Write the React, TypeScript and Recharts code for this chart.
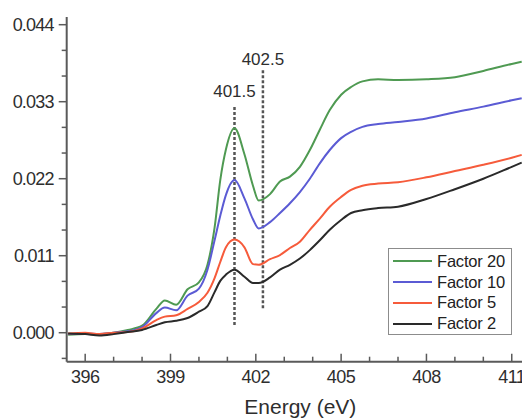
import React from 'react'
import { LineChart, Line, XAxis, YAxis, ReferenceLine, Legend } from 'recharts'

// photon energy (eV) and absorption for each dilution factor
const energy = [395.4, 396, 396.5, 397, 397.5, 398, 398.5, 398.8, 399.2, 399.6, 400, 400.3, 400.55, 400.75, 400.95, 401.25, 401.6, 401.9, 402.1, 402.5, 402.85, 403.2, 403.55, 403.9, 404.25, 404.6, 405, 405.35, 405.75, 406.3, 407, 408, 409, 410, 411, 411.35]
const factor20 = [-0.0003, -0.0002, -0.0002, 0.0, 0.0004, 0.001, 0.0034, 0.0046, 0.004, 0.0062, 0.0072, 0.0097, 0.015, 0.0218, 0.0262, 0.0292, 0.0255, 0.021, 0.0189, 0.0198, 0.0216, 0.0223, 0.0237, 0.0261, 0.029, 0.0318, 0.034, 0.0351, 0.0359, 0.0362, 0.0361, 0.0362, 0.0365, 0.0374, 0.0384, 0.0387]
const factor10 = [-0.0002, -0.0001, -0.0002, 0.0, 0.0002, 0.0008, 0.0028, 0.0036, 0.0032, 0.0053, 0.0063, 0.009, 0.0132, 0.0167, 0.0197, 0.0218, 0.0192, 0.0162, 0.0149, 0.0158, 0.0171, 0.0185, 0.0201, 0.022, 0.0242, 0.0261, 0.0278, 0.0287, 0.0294, 0.0298, 0.0301, 0.0306, 0.0315, 0.0323, 0.0332, 0.0335]
const factor5 = [-0.0001, 0.0, -0.0002, 0.0, 0.0001, 0.0006, 0.0018, 0.0023, 0.0025, 0.0034, 0.0044, 0.0057, 0.0078, 0.0101, 0.0122, 0.0133, 0.0122, 0.0098, 0.0097, 0.0105, 0.0111, 0.0121, 0.013, 0.0147, 0.0163, 0.018, 0.0194, 0.0204, 0.021, 0.0213, 0.0215, 0.0222, 0.0231, 0.024, 0.025, 0.0254]
const factor2 = [-0.0001, -0.0002, -0.0004, -0.0002, 0.0001, 0.0004, 0.0011, 0.0015, 0.0017, 0.0021, 0.003, 0.0038, 0.0058, 0.0074, 0.0083, 0.009, 0.008, 0.0071, 0.0071, 0.0079, 0.009, 0.0097, 0.0106, 0.0118, 0.0132, 0.0147, 0.0161, 0.0171, 0.0175, 0.0178, 0.018, 0.0191, 0.0205, 0.022, 0.0237, 0.0243]

const xTicks = [396, 397, 398, 399, 400, 401, 402, 403, 404, 405, 406, 407, 408, 409, 410, 411]
const yTicks = [-1, 0, 1, 2, 3, 4, 5, 6, 7, 8, 9, 10, 11, 12].map(k => (k * 0.011) / 3)

// dashed markers: [drawn at, label, from y, to y, label gap]
const markers: [number, string, number, number, number][] = [
  [401.25, '401.5', 0.0011, 0.0324, 9],
  [402.25, '402.5', 0.0035, 0.0377, 4],
]

const series = [
  { key: 'f20', name: 'Factor 20', color: '#4f9a52', values: factor20 },
  { key: 'f10', name: 'Factor 10', color: '#5b5bd4', values: factor10 },
  { key: 'f5', name: 'Factor 5', color: '#f65b3b', values: factor5 },
  { key: 'f2', name: 'Factor 2', color: '#2a2a2a', values: factor2 },
]

const data = energy.map((e, i) => {
  const row: Record<string, number> = { e }
  series.forEach(s => { row[s.key] = s.values[i] })
  return row
})

const FONT = '"Liberation Sans", Arial, Helvetica, sans-serif'
const AXIS = '#5a5a5a'
const TEXT = '#2e2e2e'

const isMajorX = (v: number) => Math.abs((v - 396) % 3) < 1e-6
const isMajorY = (v: number) => {
  const k = v / 0.011
  return Math.abs(k - Math.round(k)) < 1e-6
}

function BottomTick({ x, y, payload }: any) {
  const major = isMajorX(payload.value)
  return (
    <g>
      <line x1={x} x2={x} y1={y} y2={y - (major ? 8 : 5)} stroke={AXIS} strokeWidth={1.5} />
      {major && (
        <text x={x} y={y + 21} textAnchor="middle" fontSize={18} fill={TEXT} fontFamily={FONT} letterSpacing={-0.5}>
          {payload.value}
        </text>
      )}
    </g>
  )
}

function TopTick({ x, y, payload }: any) {
  const major = isMajorX(payload.value)
  return <line x1={x} x2={x} y1={y} y2={y + (major ? 7 : 4)} stroke={AXIS} strokeWidth={1.5} />
}

function LeftTick({ x, y, payload }: any) {
  const major = isMajorY(payload.value)
  return (
    <g>
      <line x1={x - (major ? 8 : 5)} x2={x} y1={y} y2={y} stroke={AXIS} strokeWidth={1.5} />
      {major && (
        <text x={x - 13} y={y} dy="0.36em" textAnchor="end" fontSize={18} fill={TEXT} fontFamily={FONT} letterSpacing={-0.8}>
          {Math.abs(payload.value).toFixed(3)}
        </text>
      )}
    </g>
  )
}

function LegendBox() {
  return (
    <div style={{ width: 124, height: 87, boxSizing: 'border-box', border: '1px solid #8c8c8c', padding: '2px 0 0 4px', background: '#fff' }}>
      {series.map(s => (
        <div key={s.key} style={{ display: 'flex', alignItems: 'center', height: 20.8 }}>
          <svg width={40} height={4} style={{ display: 'block' }}>
            <line x1={0} x2={39} y1={2} y2={2} stroke={s.color} strokeWidth={2} />
          </svg>
          <span style={{ marginLeft: 4, fontFamily: FONT, fontSize: 16.5, color: '#222', letterSpacing: -0.2, whiteSpace: 'nowrap' }}>{s.name}</span>
        </div>
      ))}
    </div>
  )
}

export default function App() {
  return (
    <div style={{ position: 'absolute', left: 0, top: 0, background: '#fff' }}>
      <LineChart width={522} height={419} data={data} margin={{ top: 17, right: 0, bottom: 0, left: 0 }}>
        <XAxis
          dataKey="e"
          type="number"
          domain={[395.35, 411.36]}
          allowDataOverflow
          ticks={xTicks}
          interval={0}
          height={57.3}
          tickSize={0}
          tickMargin={0}
          tickLine={false}
          axisLine={{ stroke: AXIS, strokeWidth: 2 }}
          tick={<BottomTick />}
          label={{ value: 'Energy (eV)', position: 'insideBottom', offset: 5, dx: 6, fontSize: 21, fill: TEXT, fontFamily: FONT }}
        />
        <XAxis
          xAxisId="top"
          orientation="top"
          dataKey="e"
          type="number"
          domain={[395.35, 411.36]}
          allowDataOverflow
          ticks={xTicks}
          interval={0}
          height={0}
          tickSize={0}
          tickMargin={0}
          tickLine={false}
          axisLine={{ stroke: AXIS, strokeWidth: 2 }}
          tick={<TopTick />}
        />
        <YAxis
          type="number"
          domain={[-0.00414, 0.0451]}
          allowDataOverflow
          ticks={yTicks}
          interval={0}
          width={66.7}
          tickSize={0}
          tickMargin={0}
          tickLine={false}
          axisLine={{ stroke: AXIS, strokeWidth: 2 }}
          tick={<LeftTick />}
        />
        {markers.map(([at, text, y0, y1, off]) => (
          <ReferenceLine
            key={text}
            segment={[{ x: at, y: y0 }, { x: at, y: y1 }]}
            stroke="#555"
            strokeWidth={2.5}
            strokeDasharray="3 2"
            label={{ value: text, position: 'top', offset: off, fontSize: 17, fill: TEXT, fontFamily: FONT }}
          />
        ))}
        {series.map(s => (
          <Line key={s.key} dataKey={s.key} name={s.name} type="monotone" stroke={s.color} strokeWidth={2} dot={false} isAnimationActive={false} />
        ))}
        <Legend
          layout="vertical"
          align="center"
          verticalAlign="middle"
          wrapperStyle={{ left: 388, top: 248, width: 124, height: 87 }}
          content={<LegendBox />}
        />
      </LineChart>
    </div>
  )
}
